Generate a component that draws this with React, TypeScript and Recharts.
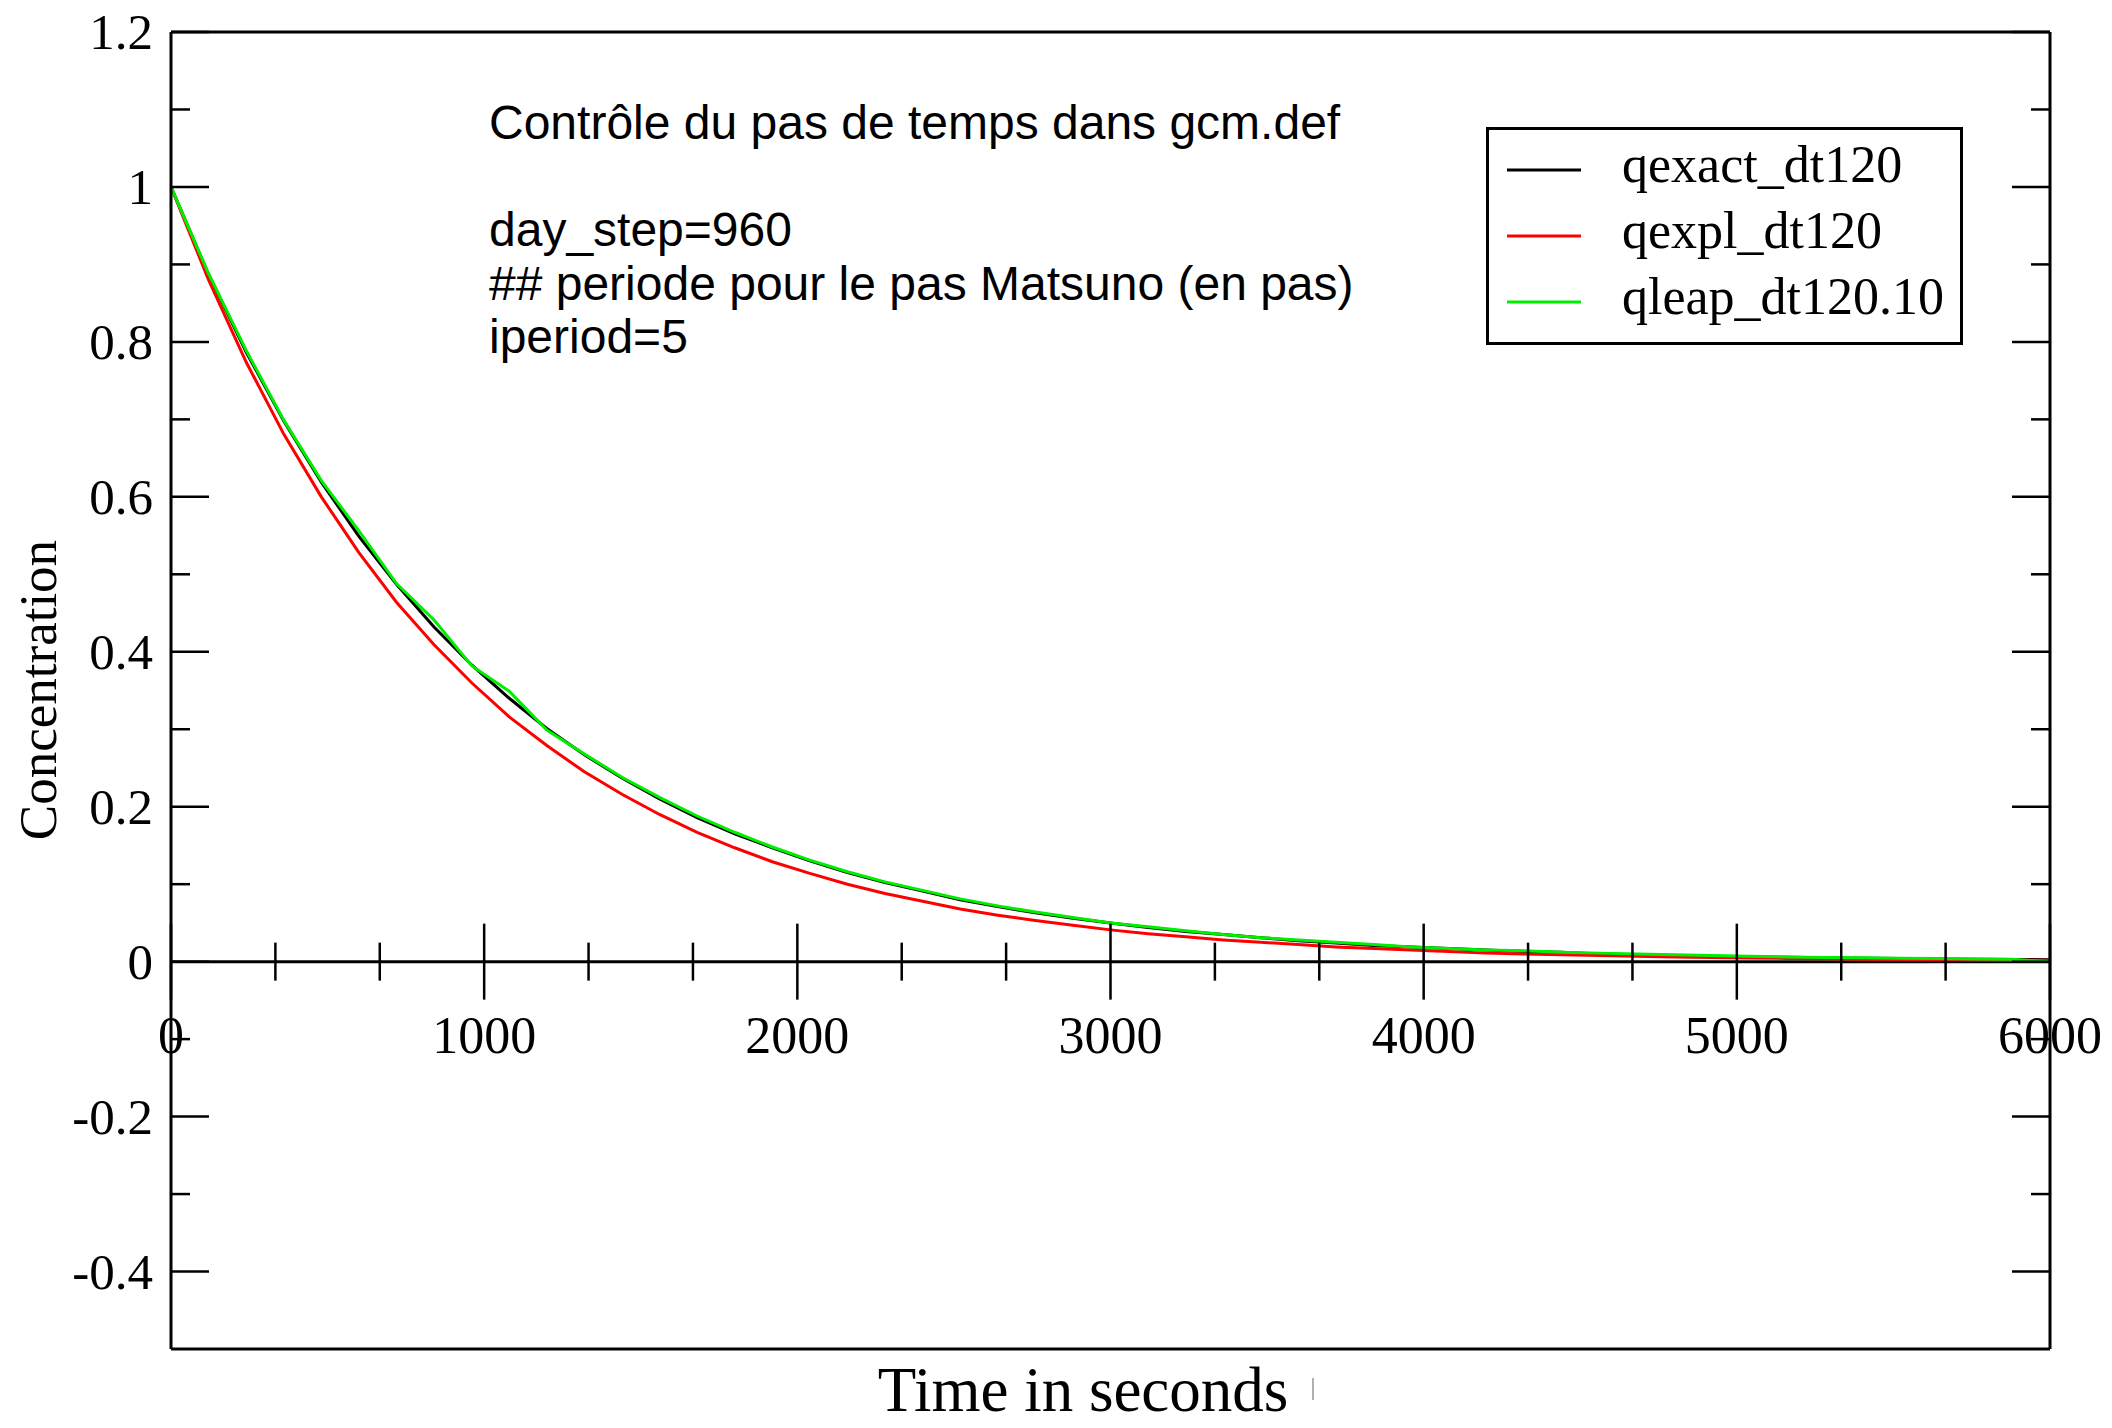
import React from 'react';
import { LineChart, Line, XAxis, YAxis, ReferenceLine, Legend, Label } from 'recharts';

// ---------- data ----------
const timeS = [
  0, 120, 240, 360, 480, 600, 720, 840, 960, 1080,
  1200, 1320, 1440, 1560, 1680, 1800, 1920, 2040, 2160, 2280,
  2400, 2520, 2640, 2760, 2880, 3000, 3120, 3240, 3360, 3480,
  3600, 3720, 3840, 3960, 4080, 4200, 4320, 4440, 4560, 4680,
  4800, 4920, 5040, 5160, 5280, 5400, 5520, 5640, 5760, 5880, 6000,
];

const qexactDt120 = [
  1.0, 0.887, 0.787, 0.698, 0.619, 0.549, 0.487, 0.432, 0.383, 0.34,
  0.301, 0.267, 0.237, 0.21, 0.186, 0.165, 0.147, 0.13, 0.115, 0.102,
  0.091, 0.08, 0.071, 0.063, 0.056, 0.05, 0.044, 0.039, 0.035, 0.031,
  0.027, 0.024, 0.021, 0.019, 0.017, 0.015, 0.013, 0.012, 0.01, 0.009,
  0.008, 0.007, 0.006, 0.0057, 0.005, 0.0045, 0.004, 0.0035, 0.003, 0.0028, 0.0025,
];

const qexplDt120 = [
  1.0, 0.88, 0.774, 0.681, 0.6, 0.528, 0.464, 0.409, 0.36, 0.316,
  0.279, 0.245, 0.216, 0.19, 0.167, 0.147, 0.129, 0.114, 0.1, 0.088,
  0.078, 0.068, 0.06, 0.053, 0.047, 0.041, 0.036, 0.032, 0.028, 0.025,
  0.022, 0.019, 0.017, 0.015, 0.013, 0.011, 0.01, 0.009, 0.008, 0.007,
  0.006, 0.0054, 0.0047, 0.0042, 0.0037, 0.0032, 0.0028, 0.0025, 0.0022, 0.0019, 0.0017,
];

const qleapDt120_10 = [
  1.0, 0.888, 0.789, 0.699, 0.621, 0.556, 0.488, 0.441, 0.382, 0.349,
  0.299, 0.268, 0.238, 0.212, 0.188, 0.167, 0.148, 0.131, 0.116, 0.103,
  0.092, 0.081, 0.072, 0.064, 0.057, 0.05, 0.045, 0.04, 0.035, 0.031,
  0.028, 0.025, 0.022, 0.019, 0.017, 0.015, 0.014, 0.012, 0.011, 0.01,
  0.009, 0.008, 0.007, 0.006, 0.0055, 0.005, 0.0045, 0.004, 0.0035, 0.003, 0.0,
];

const seriesKeys = ['qexact', 'qexpl', 'qleap'];
const seriesNames = ['qexact_dt120', 'qexpl_dt120', 'qleap_dt120.10'];
const seriesColors = ['#000000', '#ff0000', '#00ee00'];

const xTickValues = [
  0, 333.33, 666.67, 1000, 1333.33, 1666.67, 2000, 2333.33, 2666.67, 3000,
  3333.33, 3666.67, 4000, 4333.33, 4666.67, 5000, 5333.33, 5666.67, 6000,
];
const yTickValues = [
  -0.4, -0.3, -0.2, -0.1, 0, 0.1, 0.2, 0.3, 0.4, 0.5, 0.6, 0.7, 0.8, 0.9, 1.0, 1.1, 1.2,
];

const X_DOMAIN: [number, number] = [0, 6000];
const Y_DOMAIN: [number, number] = [-0.5, 1.2];

const xAxisTitle = 'Time in seconds';
const yAxisTitle = 'Concentration';
const noteLines = [
  'Contrôle du pas de temps dans gcm.def',
  '',
  'day_step=960',
  '## periode pour le pas Matsuno (en pas)',
  'iperiod=5',
];

// ---------- layout ----------
const W = 2112;
const H = 1428;
const PLOT_LEFT = 171;
const PLOT_TOP = 32;
const PLOT_RIGHT = 2050;
const PLOT_BOTTOM = 1349;
const Y_ZERO_PX =
  PLOT_TOP + ((PLOT_BOTTOM - PLOT_TOP) * (Y_DOMAIN[1] - 0)) / (Y_DOMAIN[1] - Y_DOMAIN[0]);
const SERIF = '"Liberation Serif", "Times New Roman", serif';
const SANS = '"Liberation Sans", Arial, sans-serif';

const data = timeS.map((t, i) => ({
  t,
  qexact: qexactDt120[i],
  qexpl: qexplDt120[i],
  qleap: qleapDt120_10[i],
}));

const isXMajor = (v: number) => Math.abs(v / 1000 - Math.round(v / 1000)) < 1e-6;
const isYMajor = (v: number) => Math.abs(v * 5 - Math.round(v * 5)) < 1e-6;
const fmtY = (v: number) => String(parseFloat(v.toFixed(1)));

const XTick = (props: any) => {
  const { x, payload } = props;
  const v = payload.value as number;
  const major = isXMajor(v);
  const len = major ? 38 : 19;
  return (
    <g>
      <line x1={x} x2={x} y1={Y_ZERO_PX - len} y2={Y_ZERO_PX + len} stroke="#000" strokeWidth={2.5} />
      {major && (
        <text x={x} y={Y_ZERO_PX + 91} textAnchor="middle" fontFamily={SERIF} fontSize={52} fill="#000">
          {String(Math.round(v))}
        </text>
      )}
    </g>
  );
};

const LeftYTick = (props: any) => {
  const { y, payload } = props;
  const v = payload.value as number;
  const major = isYMajor(v);
  const len = major ? 38 : 19;
  return (
    <g>
      <line x1={PLOT_LEFT} x2={PLOT_LEFT + len} y1={y} y2={y} stroke="#000" strokeWidth={2.5} />
      {major && (
        <text x={153} y={y + 17} textAnchor="end" fontFamily={SERIF} fontSize={51} fill="#000">
          {fmtY(v)}
        </text>
      )}
    </g>
  );
};

const RightYTick = (props: any) => {
  const { y, payload } = props;
  const v = payload.value as number;
  const len = isYMajor(v) ? 38 : 19;
  return <line x1={PLOT_RIGHT - len} x2={PLOT_RIGHT} y1={y} y2={y} stroke="#000" strokeWidth={2.5} />;
};

const XTitle = () => (
  <g>
    <text x={1083} y={1411} textAnchor="middle" fontFamily={SERIF} fontSize={63} fill="#000">
      {xAxisTitle}
    </text>
    <line x1={1313} x2={1313} y1={1378} y2={1400} stroke="#b0b0b0" strokeWidth={2} />
  </g>
);

const YTitle = () => (
  <text
    transform="translate(38,690) rotate(-90)"
    textAnchor="middle"
    dominantBaseline="central"
    fontFamily={SERIF}
    fontSize={53}
    fill="#000"
  >
    {yAxisTitle}
  </text>
);

const LegendBox = () => (
  <svg width={477} height={218} style={{ display: 'block' }}>
    <rect x={1.5} y={1.5} width={474} height={215} fill="#fff" stroke="#000" strokeWidth={3} />
    {seriesNames.map((name, i) => {
      const ly = 43 + i * 66;
      return (
        <g key={name}>
          <line x1={21} x2={95} y1={ly} y2={ly} stroke={seriesColors[i]} strokeWidth={3} />
          <text x={136} y={ly + 12} fontFamily={SERIF} fontSize={52} fill="#000">
            {name}
          </text>
        </g>
      );
    })}
  </svg>
);

export default function App() {
  return (
    <div style={{ position: 'absolute', left: 0, top: 0, width: W, height: H, background: '#fff' }}>
      <LineChart
        width={W}
        height={H}
        data={data}
        margin={{ top: PLOT_TOP, right: 0, bottom: 0, left: 0 }}
      >
        <XAxis
          dataKey="t"
          type="number"
          domain={X_DOMAIN}
          ticks={xTickValues}
          interval={0}
          tick={XTick}
          tickLine={false}
          axisLine={{ stroke: '#000', strokeWidth: 3 }}
          height={H - PLOT_BOTTOM}
          allowDataOverflow
        >
          <Label content={XTitle} />
        </XAxis>
        <YAxis
          yAxisId="left"
          type="number"
          domain={Y_DOMAIN}
          ticks={yTickValues}
          interval={0}
          tick={LeftYTick}
          tickLine={false}
          axisLine={{ stroke: '#000', strokeWidth: 3 }}
          width={PLOT_LEFT}
          allowDataOverflow
        >
          <Label content={YTitle} />
        </YAxis>
        <YAxis
          yAxisId="right"
          orientation="right"
          type="number"
          domain={Y_DOMAIN}
          ticks={yTickValues}
          interval={0}
          tick={RightYTick}
          tickLine={false}
          axisLine={{ stroke: '#000', strokeWidth: 3 }}
          width={W - PLOT_RIGHT}
          allowDataOverflow
        />
        <ReferenceLine yAxisId="left" y={Y_DOMAIN[1]} stroke="#000" strokeWidth={3} />
        <ReferenceLine yAxisId="left" y={0} stroke="#000" strokeWidth={3} />
        {seriesKeys.map((k, i) => (
          <Line
            key={k}
            yAxisId="left"
            dataKey={k}
            name={seriesNames[i]}
            type="linear"
            stroke={seriesColors[i]}
            strokeWidth={3}
            dot={false}
            activeDot={false}
            isAnimationActive={false}
          />
        ))}
        <Legend
          layout="horizontal"
          verticalAlign="middle"
          align="center"
          wrapperStyle={{ left: 1486, top: 127, width: 477, height: 218 }}
          content={LegendBox}
        />
      </LineChart>
      <svg
        width={W}
        height={H}
        style={{ position: 'absolute', left: 0, top: 0, pointerEvents: 'none' }}
      >
        {noteLines.map((line, i) => (
          <text key={i} x={489} y={139 + i * 53.5} fontFamily={SANS} fontSize={48} fill="#000">
            {line}
          </text>
        ))}
      </svg>
    </div>
  );
}
